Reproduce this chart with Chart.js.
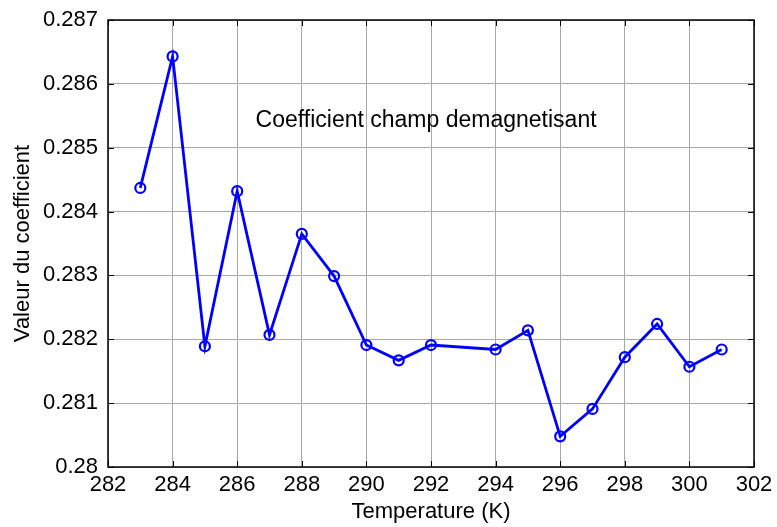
<!DOCTYPE html>
<html lang="fr">

<head>
    <meta charset="UTF-8">
    <title>Coefficient champ demagnetisant</title>
    <style>
        html, body { margin: 0; padding: 0; background: #fff; }
        #wrap { width: 777px; height: 527px; }
    </style>
</head>

<body>
    <div id="wrap"><canvas id="myChart01" width="777" height="527"></canvas></div>
    <script src="https://cdn.jsdelivr.net/npm/chart.js"></script>
    <script>
        // températures (K) et coefficient mesuré
        var temperatures = [283, 284, 285, 286, 287, 288, 289, 290, 291, 292, 294, 295, 296, 297, 298, 299, 300, 301];
        var coefficients = [0.28437, 0.28643, 0.28189, 0.28432, 0.28207, 0.28365, 0.28299, 0.28191, 0.28167,
            0.28191, 0.28184, 0.28214, 0.28048, 0.28091, 0.28172, 0.28224, 0.28157, 0.28184];
        var xTicks = [282, 284, 286, 288, 290, 292, 294, 296, 298, 300, 302];
        var yTicks = [0.28, 0.281, 0.282, 0.283, 0.284, 0.285, 0.286, 0.287];
        var annotationText = 'Coefficient champ demagnetisant';
        var annotationPos = { x: 286.57, y: 0.28542 };

        var fontFamily = '"Liberation Sans", Arial, sans-serif';
        Chart.defaults.font.family = fontFamily;
        Chart.defaults.font.size = 22;
        Chart.defaults.color = '#000';

        // cadre noir + petites graduations vers l'intérieur sur les 4 côtés, et le texte dans le graphe
        var boxPlugin = {
            id: 'boxTicks',
            afterDatasetsDraw: function (chart) {
                var ctx = chart.ctx;
                var a = chart.chartArea;
                var xs = chart.scales.x, ys = chart.scales.y;
                var len = 6;
                ctx.save();
                ctx.strokeStyle = '#000';
                ctx.lineWidth = 1;
                ctx.beginPath();
                xTicks.forEach(function (t) {
                    var px = Math.round(xs.getPixelForValue(t)) + 0.5;
                    ctx.moveTo(px, a.bottom); ctx.lineTo(px, a.bottom - len);
                    ctx.moveTo(px, a.top); ctx.lineTo(px, a.top + len);
                });
                yTicks.forEach(function (t) {
                    var py = Math.round(ys.getPixelForValue(t)) + 0.5;
                    ctx.moveTo(a.left, py); ctx.lineTo(a.left + len, py);
                    ctx.moveTo(a.right, py); ctx.lineTo(a.right - len, py);
                });
                ctx.stroke();
                ctx.lineWidth = 1.5;
                ctx.strokeRect(a.left, a.top, a.right - a.left, a.bottom - a.top);

                ctx.fillStyle = '#000';
                ctx.font = '23px ' + fontFamily;
                ctx.textAlign = 'left';
                ctx.textBaseline = 'middle';
                ctx.fillText(annotationText, xs.getPixelForValue(annotationPos.x), ys.getPixelForValue(annotationPos.y));
                ctx.restore();
            }
        };

        var points = temperatures.map(function (t, i) {
            return { x: t, y: coefficients[i] };
        });

        var ctx01 = document.getElementById('myChart01');
        var chart01 = new Chart(ctx01, {
            type: 'line',
            data: {
                datasets: [{
                    label: 'Coefficient',
                    data: points,
                    borderColor: '#0000ff',
                    borderWidth: 2.8,
                    tension: 0,
                    pointRadius: 5,
                    pointBorderWidth: 2.2,
                    pointBorderColor: '#0000ff',
                    pointBackgroundColor: 'rgba(0,0,0,0)'
                }]
            },
            options: {
                responsive: false,
                animation: false,
                layout: { padding: { left: 0, top: 20, right: 23, bottom: 0 } },
                plugins: {
                    legend: { display: false },
                    tooltip: { enabled: false }
                },
                scales: {
                    x: {
                        type: 'linear',
                        min: 282,
                        max: 302,
                        afterFit: function (scale) {
                            scale.height = 60;
                            scale.paddingLeft = 0;
                            scale.paddingRight = 0;
                        },
                        afterBuildTicks: function (scale) {
                            scale.ticks = xTicks.map(function (v) { return { value: v }; });
                        },
                        grid: { color: '#a8a8a8', lineWidth: 1, drawTicks: false },
                        border: { display: false },
                        ticks: { padding: 5, maxRotation: 0, autoSkip: false, color: '#000' },
                        title: {
                            display: true,
                            text: 'Temperature (K)',
                            color: '#000',
                            padding: { top: 0, bottom: 2 }
                        }
                    },
                    y: {
                        min: 0.28,
                        max: 0.287,
                        afterFit: function (scale) {
                            scale.width = 108;
                            // le haut du cadre est fixé par layout.padding
                            scale.paddingTop = 0;
                            scale.paddingBottom = 0;
                        },
                        afterBuildTicks: function (scale) {
                            scale.ticks = yTicks.map(function (v) { return { value: v }; });
                        },
                        grid: { color: '#a8a8a8', lineWidth: 1, drawTicks: false },
                        border: { display: false },
                        ticks: {
                            padding: 10,
                            autoSkip: false,
                            color: '#000',
                            callback: function (v) { return String(Number(v.toFixed(3))); }
                        },
                        title: {
                            display: true,
                            text: 'Valeur du coefficient',
                            color: '#000',
                            padding: { top: 10, bottom: 0 }
                        }
                    }
                }
            },
            plugins: [boxPlugin]
        });
    </script>
</body>

</html>
